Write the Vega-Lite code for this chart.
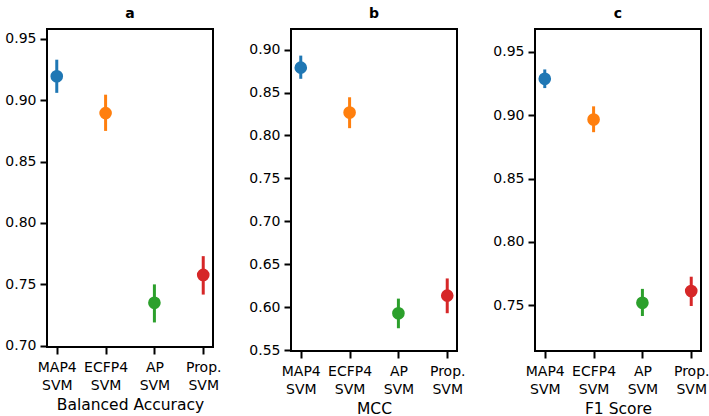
{
  "$schema": "https://vega.github.io/schema/vega-lite/v6.json",
  "padding": {"left": 3, "top": 6, "right": 0, "bottom": 0},
  "spacing": 24,
  "config": {
    "font": "DejaVu Sans",
    "view": {"stroke": "black", "strokeWidth": 2},
    "axis": {"grid": false, "domain": false, "tickColor": "black", "tickWidth": 2, "tickSize": 7, "labelColor": "black", "labelFontSize": 14, "titleFontSize": 15.5, "titleFontWeight": "normal", "titleColor": "black", "labelPadding": 4},
    "axisX": {"labelPadding": 6, "titlePadding": 5},
    "title": {"fontSize": 14, "fontWeight": "bold", "color": "black", "offset": 8}
  },
  "data": {"values": [
    {"metric": "Balanced Accuracy", "model": "MAP4 SVM", "value": 0.9195, "lo": 0.906, "hi": 0.933},
    {"metric": "Balanced Accuracy", "model": "ECFP4 SVM", "value": 0.8895, "lo": 0.875, "hi": 0.9045},
    {"metric": "Balanced Accuracy", "model": "AP SVM", "value": 0.735, "lo": 0.719, "hi": 0.750},
    {"metric": "Balanced Accuracy", "model": "Prop. SVM", "value": 0.7577, "lo": 0.7417, "hi": 0.773},
    {"metric": "MCC", "model": "MAP4 SVM", "value": 0.879, "lo": 0.866, "hi": 0.893},
    {"metric": "MCC", "model": "ECFP4 SVM", "value": 0.8267, "lo": 0.8085, "hi": 0.8445},
    {"metric": "MCC", "model": "AP SVM", "value": 0.593, "lo": 0.5755, "hi": 0.610},
    {"metric": "MCC", "model": "Prop. SVM", "value": 0.6135, "lo": 0.593, "hi": 0.6335},
    {"metric": "F1 Score", "model": "MAP4 SVM", "value": 0.9287, "lo": 0.9214, "hi": 0.9361},
    {"metric": "F1 Score", "model": "ECFP4 SVM", "value": 0.8966, "lo": 0.8866, "hi": 0.907},
    {"metric": "F1 Score", "model": "AP SVM", "value": 0.752, "lo": 0.7416, "hi": 0.763},
    {"metric": "F1 Score", "model": "Prop. SVM", "value": 0.7613, "lo": 0.7495, "hi": 0.7726}
  ]},
  "hconcat": [
    {
      "title": "a",
      "width": 166, "height": 318,
      "transform": [{"filter": "datum.metric === 'Balanced Accuracy'"}],
      "encoding": {
        "x": {"field": "model", "type": "nominal", "sort": ["MAP4 SVM", "ECFP4 SVM", "AP SVM", "Prop. SVM"], "scale": {"type": "point", "padding": 0.2}, "title": "Balanced Accuracy", "axis": {"labelAngle": 0, "labelExpr": "split(datum.label, ' ')", "labelLineHeight": 18}},
        "color": {"field": "model", "type": "nominal", "scale": {"domain": ["MAP4 SVM", "ECFP4 SVM", "AP SVM", "Prop. SVM"], "range": ["#1f77b4", "#ff7f0e", "#2ca02c", "#d62728"]}, "legend": null}
      },
      "layer": [
        {"mark": {"type": "rule", "strokeWidth": 3}, "encoding": {"y": {"field": "lo", "type": "quantitative", "scale": {"domain": [0.699, 0.958], "nice": false, "zero": false}, "axis": {"values": [0.70, 0.75, 0.80, 0.85, 0.90, 0.95], "format": ".2f", "title": null}}, "y2": {"field": "hi"}}},
        {"mark": {"type": "circle", "size": 160, "opacity": 1}, "encoding": {"y": {"field": "value", "type": "quantitative"}}}
      ]
    },
    {
      "title": "b",
      "width": 166, "height": 322,
      "transform": [{"filter": "datum.metric === 'MCC'"}],
      "encoding": {
        "x": {"field": "model", "type": "nominal", "sort": ["MAP4 SVM", "ECFP4 SVM", "AP SVM", "Prop. SVM"], "scale": {"type": "point", "padding": 0.2}, "title": "MCC", "axis": {"labelAngle": 0, "labelExpr": "split(datum.label, ' ')", "labelLineHeight": 18}},
        "color": {"field": "model", "type": "nominal", "scale": {"domain": ["MAP4 SVM", "ECFP4 SVM", "AP SVM", "Prop. SVM"], "range": ["#1f77b4", "#ff7f0e", "#2ca02c", "#d62728"]}, "legend": null}
      },
      "layer": [
        {"mark": {"type": "rule", "strokeWidth": 3}, "encoding": {"y": {"field": "lo", "type": "quantitative", "scale": {"domain": [0.549, 0.924], "nice": false, "zero": false}, "axis": {"values": [0.55, 0.60, 0.65, 0.70, 0.75, 0.80, 0.85, 0.90], "format": ".2f", "title": null}}, "y2": {"field": "hi"}}},
        {"mark": {"type": "circle", "size": 160, "opacity": 1}, "encoding": {"y": {"field": "value", "type": "quantitative"}}}
      ]
    },
    {
      "title": "c",
      "width": 166, "height": 322,
      "transform": [{"filter": "datum.metric === 'F1 Score'"}],
      "encoding": {
        "x": {"field": "model", "type": "nominal", "sort": ["MAP4 SVM", "ECFP4 SVM", "AP SVM", "Prop. SVM"], "scale": {"type": "point", "padding": 0.2}, "title": "F1 Score", "axis": {"labelAngle": 0, "labelExpr": "split(datum.label, ' ')", "labelLineHeight": 18}},
        "color": {"field": "model", "type": "nominal", "scale": {"domain": ["MAP4 SVM", "ECFP4 SVM", "AP SVM", "Prop. SVM"], "range": ["#1f77b4", "#ff7f0e", "#2ca02c", "#d62728"]}, "legend": null}
      },
      "layer": [
        {"mark": {"type": "rule", "strokeWidth": 3}, "encoding": {"y": {"field": "lo", "type": "quantitative", "scale": {"domain": [0.714, 0.968], "nice": false, "zero": false}, "axis": {"values": [0.75, 0.80, 0.85, 0.90, 0.95], "format": ".2f", "title": null}}, "y2": {"field": "hi"}}},
        {"mark": {"type": "circle", "size": 160, "opacity": 1}, "encoding": {"y": {"field": "value", "type": "quantitative"}}}
      ]
    }
  ]
}
